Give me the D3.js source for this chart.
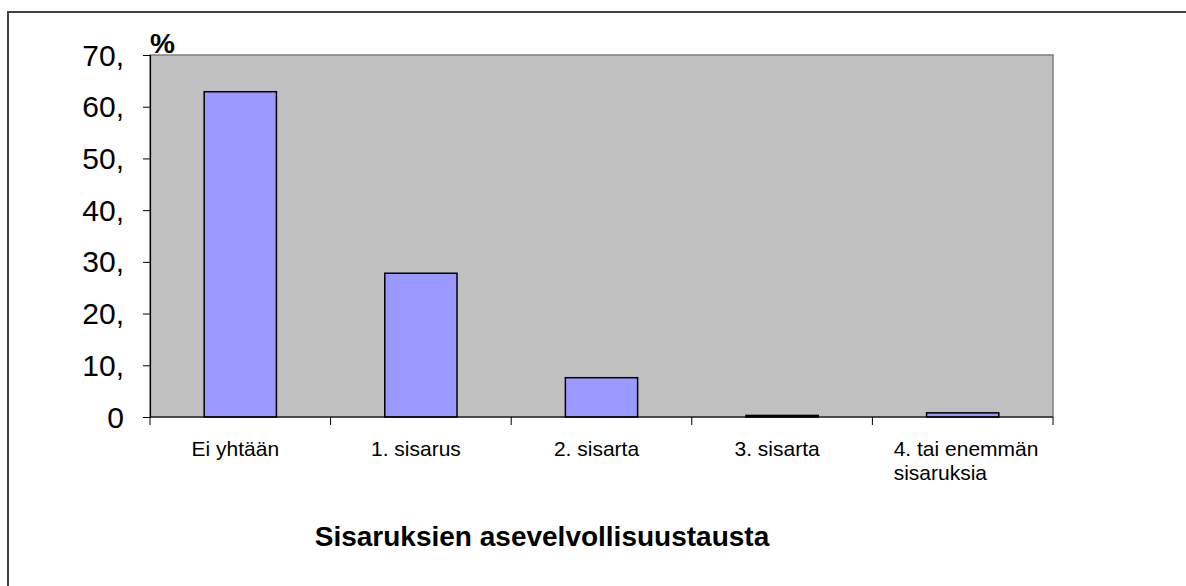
<!DOCTYPE html>
<html>
<head>
<meta charset="utf-8">
<script src="https://cdn.jsdelivr.net/npm/d3@7"></script>
<style>
  body { margin: 0; background: #fff; }
  svg { display: block; font-family: "Liberation Sans", Arial, sans-serif; }
</style>
</head>
<body>
<div id="main"></div>
<script>
// data
const categories = ["Ei yhtään", "1. sisarus", "2. sisarta", "3. sisarta", "4. tai enemmän sisaruksia"]
const values = [62.9, 27.8, 7.6, 0.3, 0.8]
const yTicks = [0, 10, 20, 30, 40, 50, 60, 70]
const title = "Sisaruksien asevelvollisuustausta"

const W = 1186, H = 586
const plot = { left: 150, right: 1053, top: 55, bottom: 417 }

const svg = d3.select("#main").append("svg").attr("width", W).attr("height", H)

// outer chart frame (runs off the right and bottom of the picture)
svg.append("rect").attr("x", 8).attr("y", 12).attr("width", W + 20).attr("height", H + 20)
  .attr("fill", "#fff").attr("stroke", "#404040").attr("stroke-width", 2)

const x = d3.scaleBand().domain(categories).range([plot.left, plot.right])
  .paddingInner(0.6).paddingOuter(0.3)
const y = d3.scaleLinear().domain([0, 70]).range([plot.bottom, plot.top])

// plot area
svg.append("rect").attr("x", plot.left).attr("y", plot.top)
  .attr("width", plot.right - plot.left).attr("height", plot.bottom - plot.top)
  .attr("fill", "#c0c0c0").attr("stroke", "#808080").attr("stroke-width", 1.5)

// bars
svg.append("g").selectAll("rect").data(values).enter().append("rect")
  .attr("x", (d, i) => x(categories[i]))
  .attr("y", d => y(d))
  .attr("width", x.bandwidth())
  .attr("height", d => y(0) - y(d))
  .attr("fill", "#9999ff").attr("stroke", "#000").attr("stroke-width", 1.5)

// y axis
const yAxis = svg.append("g").attr("transform", `translate(${plot.left},0)`)
  .call(d3.axisLeft(y).tickValues(yTicks).tickSize(7).tickPadding(0)
    .tickFormat(d => d === 0 ? "0" : d + ","))
yAxis.select(".domain").attr("stroke", "#000").attr("stroke-width", 1.2)
yAxis.selectAll(".tick line").attr("stroke", "#000")
yAxis.selectAll(".tick text")
  .attr("x", -26).attr("dy", 10)
  .attr("font-size", 30).attr("fill", "#000")
  .attr("font-family", "Liberation Sans, Arial, sans-serif")

// x axis: ticks at category boundaries
const xAxisG = svg.append("g")
xAxisG.append("line").attr("x1", plot.left).attr("x2", plot.right)
  .attr("y1", plot.bottom).attr("y2", plot.bottom).attr("stroke", "#000").attr("stroke-width", 1.2)
const bounds = categories.map(c => x(c) - x.step() * x.paddingInner() / 2)
bounds.push(plot.right)
xAxisG.selectAll(".xt").data(bounds).enter().append("line")
  .attr("x1", d => d).attr("x2", d => d)
  .attr("y1", plot.bottom).attr("y2", plot.bottom + 8).attr("stroke", "#000")

// category labels (last one wraps onto two lines)
const labelLines = [["Ei yhtään"], ["1. sisarus"], ["2. sisarta"], ["3. sisarta"], ["4. tai enemmän", "sisaruksia"]]
labelLines.forEach((lines, i) => {
  const cx = x(categories[i]) + x.bandwidth() / 2 - 5
  const t = svg.append("text").attr("font-size", 21).attr("fill", "#000")
  if (lines.length === 1) {
    t.attr("x", cx).attr("y", 456).attr("text-anchor", "middle").text(lines[0])
  } else {
    const left = cx - 64
    lines.forEach((l, j) => t.append("tspan").attr("x", left).attr("y", 456 + j * 24).text(l))
  }
})

// "%" unit label
svg.append("text").attr("x", 150).attr("y", 53).attr("font-size", 28).attr("font-weight", "bold").text("%")

// title
svg.append("text").attr("x", 542).attr("y", 546).attr("text-anchor", "middle")
  .attr("font-size", 28).attr("font-weight", "bold").text(title)
</script>
</body>
</html>
